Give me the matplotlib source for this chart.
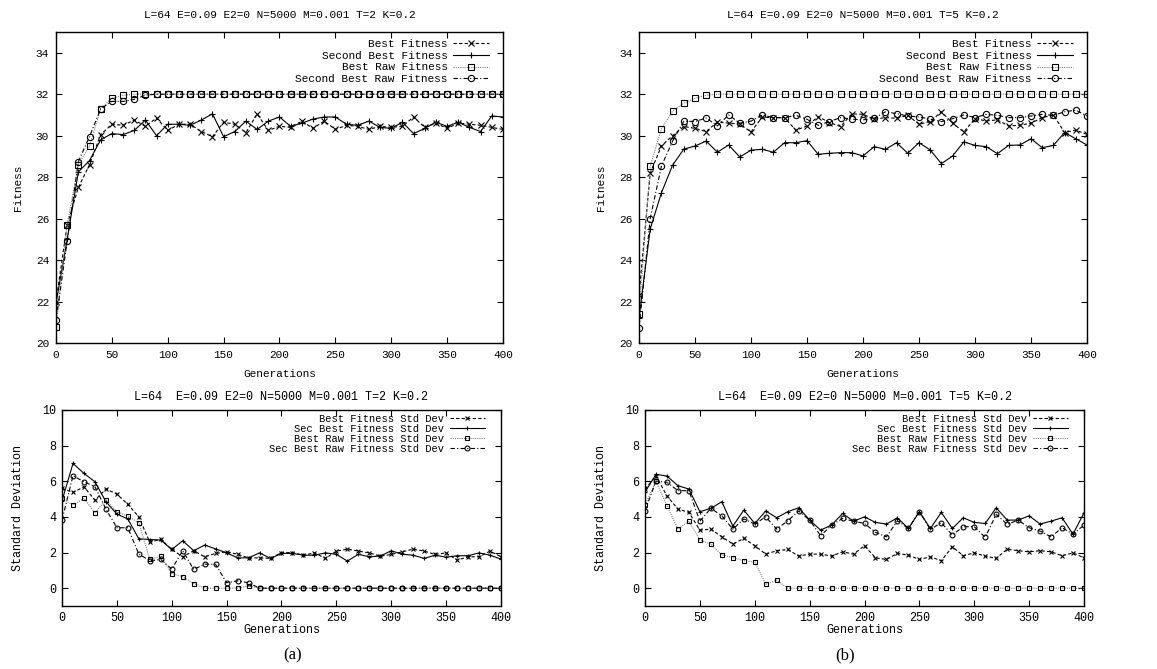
import matplotlib
matplotlib.use("Agg")
import matplotlib.pyplot as plt

plt.rcParams['font.family'] = 'Liberation Mono'

gens = list(range(0, 401, 10))

# (a) T=2 fitness
tl_best = [22.0, 25.7, 27.5, 28.6, 30.05, 30.55, 30.5, 30.75, 30.45, 30.85,
           30.25, 30.55, 30.55, 30.2, 29.95, 30.65, 30.55, 30.15, 31.05, 30.25,
           30.45, 30.4, 30.7, 30.35, 30.7, 30.3, 30.5, 30.45, 30.3, 30.45,
           30.4, 30.45, 30.9, 30.4, 30.6, 30.35, 30.6, 30.55, 30.5, 30.4,
           30.3]
tl_second = [21.9, 25.0, 28.25, 28.8, 29.8, 30.1, 30.05, 30.25, 30.75, 30.0,
             30.55, 30.55, 30.5, 30.75, 31.05, 29.95, 30.2, 30.7, 30.3, 30.7,
             30.9, 30.45, 30.6, 30.8, 30.9, 30.9, 30.55, 30.5, 30.7, 30.4,
             30.35, 30.65, 30.1, 30.35, 30.65, 30.45, 30.65, 30.4, 30.2, 30.95,
             30.9]
tl_raw = [20.75, 25.7, 28.6, 29.5, 31.3, 31.8, 31.95, 32.0, 32.0, 32.0,
          32.0, 32.0, 32.0, 32.0, 32.0, 32.0, 32.0, 32.0, 32.0, 32.0,
          32.0, 32.0, 32.0, 32.0, 32.0, 32.0, 32.0, 32.0, 32.0, 32.0,
          32.0, 32.0, 32.0, 32.0, 32.0, 32.0, 32.0, 32.0, 32.0, 32.0,
          32.0]
tl_raw2 = [21.1, 24.9, 28.75, 29.95, 31.3, 31.65, 31.65, 31.75, 31.95, 32.0,
           32.0, 32.0, 32.0, 32.0, 32.0, 32.0, 32.0, 32.0, 32.0, 32.0,
           32.0, 32.0, 32.0, 32.0, 32.0, 32.0, 32.0, 32.0, 32.0, 32.0,
           32.0, 32.0, 32.0, 32.0, 32.0, 32.0, 32.0, 32.0, 32.0, 32.0,
           32.0]

# (b) T=5 fitness
tr_best = [22.3, 28.2, 29.5, 30.0, 30.44, 30.35, 30.2, 30.66, 30.6, 30.56,
           30.18, 30.89, 30.87, 30.87, 30.26, 30.47, 30.92, 30.63, 30.44, 31.05,
           31.03, 30.79, 30.87, 30.84, 30.98, 30.55, 30.68, 31.15, 30.6, 30.18,
           30.82, 30.71, 30.76, 30.47, 30.5, 30.6, 30.87, 31.0, 30.15, 30.27,
           30.06]
tr_second = [21.2, 25.5, 27.24, 28.58, 29.35, 29.5, 29.74, 29.2, 29.55, 28.97,
             29.3, 29.34, 29.2, 29.66, 29.66, 29.76, 29.1, 29.15, 29.18, 29.18,
             29.02, 29.47, 29.34, 29.66, 29.15, 29.66, 29.31, 28.65, 29.02, 29.7,
             29.53, 29.47, 29.13, 29.53, 29.55, 29.85, 29.42, 29.53, 30.15, 29.85,
             29.55]
tr_raw = [21.4, 28.53, 30.34, 31.18, 31.56, 31.8, 31.95, 32.0, 32.0, 32.0,
          32.0, 32.0, 32.0, 32.0, 32.0, 32.0, 32.0, 32.0, 32.0, 32.0,
          32.0, 32.0, 32.0, 32.0, 32.0, 32.0, 32.0, 32.0, 32.0, 32.0,
          32.0, 32.0, 32.0, 32.0, 32.0, 32.0, 32.0, 32.0, 32.0, 32.0,
          32.0]
tr_raw2 = [20.7, 26.0, 28.53, 29.74, 30.7, 30.68, 30.85, 30.47, 31.0, 30.6,
           30.7, 31.0, 30.87, 30.87, 30.98, 30.79, 30.5, 30.68, 30.87, 30.8,
           30.76, 30.84, 31.15, 31.06, 30.95, 30.9, 30.8, 30.68, 30.82, 31.0,
           30.87, 31.03, 30.98, 30.87, 30.87, 30.95, 31.03, 30.98, 31.15, 31.23,
           30.95]

# (a) T=2 std dev
bl_best = [5.6, 5.37, 5.69, 4.94, 5.56, 5.28, 4.7, 4.0, 2.57, 2.75,
           2.17, 1.76, 2.1, 1.76, 1.95, 2.04, 1.9, 1.7, 1.7, 1.67,
           2.0, 2.0, 1.85, 1.98, 1.67, 2.08, 2.19, 2.08, 1.98, 1.8,
           1.89, 2.04, 2.19, 2.08, 1.89, 1.98, 1.57, 1.76, 1.76, 2.08,
           1.76]
bl_second = [4.9, 7.0, 6.44, 5.97, 4.85, 4.16, 3.88, 2.77, 2.73, 2.7,
             2.17, 2.66, 2.1, 2.42, 2.2, 1.98, 1.7, 1.7, 1.98, 1.67,
             1.95, 1.95, 1.85, 1.85, 1.98, 1.9, 1.52, 1.9, 1.76, 1.8,
             2.1, 1.9, 1.85, 1.67, 1.85, 1.74, 1.82, 1.82, 1.98, 1.85,
             1.63]
bl_raw = [5.04, 4.66, 5.04, 4.23, 4.94, 4.29, 4.04, 3.67, 1.61, 1.8,
          0.82, 0.64, 0.26, 0.0, 0.0, 0.0, 0.0, 0.13, 0.0, 0.0,
          0.0, 0.0, 0.0, 0.0, 0.0, 0.0, 0.0, 0.0, 0.0, 0.0,
          0.0, 0.0, 0.0, 0.0, 0.0, 0.0, 0.0, 0.0, 0.0, 0.0,
          0.0]
bl_raw2 = [3.82, 6.31, 5.97, 5.69, 4.44, 3.39, 3.39, 1.91, 1.54, 1.61,
           1.07, 2.1, 1.05, 1.35, 1.33, 0.3, 0.41, 0.3, 0.0, 0.0,
           0.0, 0.0, 0.0, 0.0, 0.0, 0.0, 0.0, 0.0, 0.0, 0.0,
           0.0, 0.0, 0.0, 0.0, 0.0, 0.0, 0.0, 0.0, 0.0, 0.0,
           0.0]

# (b) T=5 std dev
br_best = [5.56, 6.3, 5.17, 4.44, 4.25, 3.26, 3.31, 2.88, 2.47, 2.79,
           2.38, 1.91, 2.1, 2.17, 1.8, 1.91, 1.91, 1.8, 2.04, 1.91,
           2.38, 1.7, 1.61, 1.95, 1.85, 1.61, 1.76, 1.54, 2.32, 1.82,
           1.98, 1.8, 1.67, 2.19, 2.1, 2.04, 2.1, 2.04, 1.82, 1.98,
           1.7]
br_second = [5.4, 6.39, 6.29, 5.75, 5.56, 4.29, 4.48, 4.85, 3.48, 4.38,
             3.63, 4.33, 3.95, 4.29, 4.51, 3.82, 3.26, 3.54, 4.19, 3.76,
             4.0, 3.69, 3.6, 3.95, 3.35, 4.29, 3.35, 4.25, 3.35, 3.95,
             3.69, 3.63, 4.51, 3.82, 3.82, 4.06, 3.6, 3.76, 3.95, 3.03,
             4.23]
br_raw = [4.66, 6.0, 4.63, 3.31, 3.76, 2.7, 2.47, 1.86, 1.72, 1.54,
          1.46, 0.22, 0.45, 0.0, 0.0, 0.0, 0.0, 0.0, 0.0, 0.0,
          0.0, 0.0, 0.0, 0.0, 0.0, 0.0, 0.0, 0.0, 0.0, 0.0,
          0.0, 0.0, 0.0, 0.0, 0.0, 0.0, 0.0, 0.0, 0.0, 0.0,
          0.0]
br_raw2 = [4.35, 6.01, 5.94, 5.47, 5.47, 3.76, 4.48, 4.06, 3.31, 3.88,
           3.6, 4.0, 3.31, 3.78, 4.33, 3.82, 2.94, 3.54, 3.91, 3.76,
           3.63, 3.13, 2.88, 3.78, 3.35, 4.29, 3.3, 3.67, 2.98, 3.45,
           3.45, 2.85, 4.14, 3.58, 3.82, 3.39, 3.2, 2.88, 3.39, 3.03,
           3.54]

fit_labels = ['Best Fitness', 'Second Best Fitness', 'Best Raw Fitness',
              'Second Best Raw Fitness']
std_labels = ['Best Fitness Std Dev', 'Sec Best Fitness Std Dev',
              'Best Raw Fitness Std Dev', 'Sec Best Raw Fitness Std Dev']
title_t2 = 'L=64 E=0.09 E2=0 N=5000 M=0.001 T=2 K=0.2'
title_t5 = 'L=64 E=0.09 E2=0 N=5000 M=0.001 T=5 K=0.2'
std_title_t2 = 'L=64  E=0.09 E2=0 N=5000 M=0.001 T=2 K=0.2'
std_title_t5 = 'L=64  E=0.09 E2=0 N=5000 M=0.001 T=5 K=0.2'


def panel(ax, series, labels, title, ylabel, small):
    fs = 8.5 if small else 8
    ms = 3.5 if small else 4.5
    styles = [
        dict(color='black', ls=(0, (3, 2)), marker='x'),
        dict(color='black', ls='-', marker='+'),
        dict(color='0.5', ls=(0, (1, 1)), marker='s', mec='black', mfc='none'),
        dict(color='black', ls=(0, (4, 2, 1, 2)), marker='o', mfc='none'),
    ]
    for vals, lab, st in zip(series, labels, styles):
        ax.plot(gens, vals, lw=0.8, ms=ms, mew=0.8, label=lab, **st)

    ax.set_xlim(0, 400)
    ax.set_xticks(range(0, 401, 50))
    if small:
        ax.set_ylim(-1, 10)
        ax.set_yticks(range(0, 11, 2))
    else:
        ax.set_ylim(20, 35)
        ax.set_yticks(range(20, 35, 2))
    ax.tick_params(direction='in', top=True, right=True, length=4, width=0.8,
                   labelsize=fs, pad=5 if not small else 4)
    for sp in ax.spines.values():
        sp.set_linewidth(1.0)

    ax.set_xlabel('Generations', fontsize=fs)
    ax.set_ylabel(ylabel, fontsize=fs)
    ax.xaxis.label.set_va('center')
    ax.yaxis.label.set_va('center')
    if small:
        ax.xaxis.set_label_coords(0.5, -0.125)
        ax.yaxis.set_label_coords(-0.100, 0.5)
        ax.set_title(title, fontsize=fs, y=1.066, pad=0, va='center')
        anchor = (0.9636, 0.98)
        hl = 3.4
        spacing = 0.0
        lfs = 7.5
    else:
        ax.xaxis.set_label_coords(0.5, -0.0997)
        ax.yaxis.set_label_coords(-0.085, 0.5)
        ax.set_title(title, fontsize=fs, y=1.0547, pad=0, va='center')
        anchor = (0.9687, 0.977)
        hl = 3.2
        spacing = 0.15
        lfs = 8

    ax.legend(loc='upper right', bbox_to_anchor=anchor, frameon=False,
              markerfirst=False, numpoints=1, fontsize=lfs, handlelength=hl,
              handletextpad=0.5, labelspacing=spacing, borderpad=0,
              borderaxespad=0)


fig = plt.figure(figsize=(11.57, 6.69), dpi=100)
ax_tl = fig.add_axes([0.0484, 0.4873, 0.3863, 0.4649])
ax_tr = fig.add_axes([0.5523, 0.4873, 0.3872, 0.4649])
ax_bl = fig.add_axes([0.0536, 0.0942, 0.3794, 0.2930])
ax_br = fig.add_axes([0.5575, 0.0942, 0.3794, 0.2930])

panel(ax_tl, [tl_best, tl_second, tl_raw, tl_raw2], fit_labels, title_t2, 'Fitness', False)
panel(ax_tr, [tr_best, tr_second, tr_raw, tr_raw2], fit_labels, title_t5, 'Fitness', False)
panel(ax_bl, [bl_best, bl_second, bl_raw, bl_raw2], std_labels, std_title_t2,
      'Standard Deviation', True)
panel(ax_br, [br_best, br_second, br_raw, br_raw2], std_labels, std_title_t5,
      'Standard Deviation', True)

fig.text(292.7 / 1157, 1 - 655 / 669, '(a)', family='Liberation Serif',
         fontsize=12, ha='center', va='center')
fig.text(845 / 1157, 1 - 655 / 669, '(b)', family='Liberation Serif',
         fontsize=12, ha='center', va='center')

fig.savefig('out.png', dpi=100)
